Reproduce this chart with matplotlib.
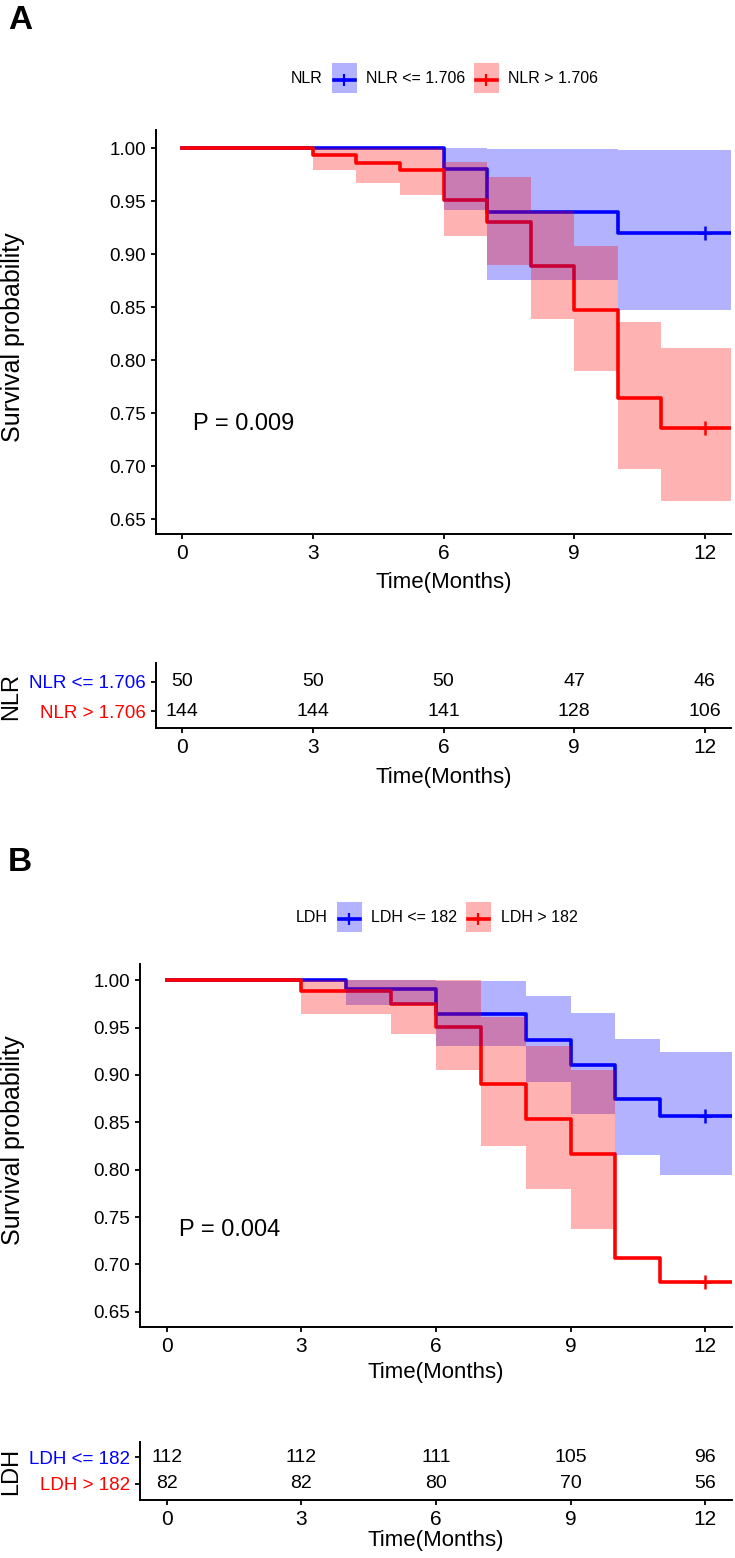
import numpy as np
import matplotlib
matplotlib.use("Agg")
import matplotlib.pyplot as plt
from matplotlib.patches import Rectangle

W, H = 735, 1558
REG = ["Liberation Sans", "DejaVu Sans"]

# ---------------------------------
# DATA
# ---------------------------------
month_ticks = [0, 3, 6, 9, 12]
t_end = 12.6
censor_t = 12

# panel A: NLR
nlr_low_t = [0, 6, 7, 10]
nlr_low_s = [1.0, 0.980, 0.940, 0.920]
nlr_low_up = [1.0, 1.0, 0.999, 0.998]
nlr_low_lo = [1.0, 0.942, 0.876, 0.847]

nlr_high_t = [0, 3, 4, 5, 6, 7, 8, 9, 10, 11]
nlr_high_s = [1.0, 0.993, 0.986, 0.979, 0.951, 0.930, 0.889, 0.847, 0.764, 0.736]
nlr_high_up = [1.0, 1.0, 1.0, 1.0, 0.987, 0.973, 0.941, 0.908, 0.836, 0.811]
nlr_high_lo = [1.0, 0.979, 0.967, 0.956, 0.917, 0.890, 0.839, 0.790, 0.697, 0.667]

nlr_risk_low = [50, 50, 50, 47, 46]
nlr_risk_high = [144, 144, 141, 128, 106]

# panel B: LDH
ldh_low_t = [0, 4, 6, 8, 9, 10, 11]
ldh_low_s = [1.0, 0.991, 0.964, 0.937, 0.910, 0.875, 0.857]
ldh_low_up = [1.0, 1.0, 0.999, 0.983, 0.965, 0.938, 0.924]
ldh_low_lo = [1.0, 0.974, 0.930, 0.893, 0.859, 0.816, 0.794]

ldh_high_t = [0, 3, 5, 6, 7, 8, 9, 10, 11]
ldh_high_s = [1.0, 0.988, 0.975, 0.951, 0.890, 0.853, 0.817, 0.707, 0.682]
ldh_high_up = [1.0, 1.0, 1.0, 1.0, 0.961, 0.930, 0.905, np.nan, np.nan]
ldh_high_lo = [1.0, 0.964, 0.943, 0.905, 0.825, 0.780, 0.737, np.nan, np.nan]

ldh_risk_low = [112, 112, 111, 105, 96]
ldh_risk_high = [82, 82, 80, 70, 56]

BLUE = "#0000FF"
RED = "#FF0000"


def px_axes(fig, left, top, right, bottom):
    return fig.add_axes([left / W, 1 - bottom / H, (right - left) / W, (bottom - top) / H])


def style_axes(ax):
    for s in ["top", "right"]:
        ax.spines[s].set_visible(False)
    for s in ["left", "bottom"]:
        ax.spines[s].set_linewidth(1.4)
    ax.tick_params(length=3.6, width=1.3, color="black", pad=3.5)


def km_panel(ax, groups, ylim, pval, pxy):
    # lines first, ribbons drawn on top (blue then red)
    for t, s, up, lo, col in groups:
        edges = np.append(t, t_end)
        ax.step(edges, np.append(s, s[-1]), where="post", color=col, lw=2.6, zorder=2)
    for t, s, up, lo, col in groups:
        edges = np.append(t, t_end)
        x = np.repeat(edges, 2)[1:-1]
        ax.fill_between(x, np.repeat(lo, 2), np.repeat(up, 2), color=col,
                        alpha=0.3, lw=0, zorder=3)
    for t, s, up, lo, col in groups:
        i = np.searchsorted(t, censor_t, side="right") - 1
        ax.plot([censor_t], [s[i]], marker="+", ms=10, mew=1.8, color=col, zorder=4)
    ax.set_xlim(-0.6, 12.6)
    ax.set_ylim(*ylim)
    ax.set_xticks(month_ticks)
    ax.set_yticks(np.arange(0.65, 1.001, 0.05))
    ax.set_yticklabels(["%.2f" % v for v in np.arange(0.65, 1.001, 0.05)])
    style_axes(ax)
    for lb in ax.get_xticklabels():
        lb.set_fontsize(15); lb.set_family(REG)
    for lb in ax.get_yticklabels():
        lb.set_fontsize(13.5); lb.set_family(REG)
    ax.text(pxy[0], pxy[1], pval, fontsize=17, family=REG, ha="left", va="center")


def risk_panel(ax, low, high, labels, name):
    for vals, yy in [(low, 1), (high, 0)]:
        for x, v in zip(month_ticks, vals):
            ax.text(x, yy, str(v), ha="center", va="center", fontsize=14, family=REG)
    ax.set_xlim(-0.6, 12.6)
    ax.set_yticks([1, 0])
    ax.set_yticklabels(labels)
    for lb, col in zip(ax.get_yticklabels(), [BLUE, RED]):
        lb.set_color(col); lb.set_fontsize(13.5); lb.set_family(REG)
    ax.set_xticks(month_ticks)
    style_axes(ax)
    for lb in ax.get_xticklabels():
        lb.set_fontsize(15); lb.set_family(REG)
    ax.set_ylabel(name, fontsize=17, family=REG)


def legend(ov, x_title, y, title, labels, x_boxes, x_labels):
    ov.text(x_title, y, title, fontsize=11.5, family=REG, ha="left", va="center")
    for xb, xl, lab, col in zip(x_boxes, x_labels, labels, [BLUE, RED]):
        ov.add_patch(Rectangle((xb, y - 15), 25, 30, facecolor=col, alpha=0.3, lw=0))
        ov.plot([xb + 2, xb + 23], [y + 2, y + 2], color=col, lw=2.6)
        ov.plot([xb + 12.5], [y + 2], marker="+", ms=9, mew=1.6, color=col)
        ov.text(xl, y, lab, fontsize=11.5, family=REG, ha="left", va="center")


fig = plt.figure(figsize=(W / 100, H / 100), dpi=100)

# ---- panel A ----
axA = px_axes(fig, 156, 130, 731, 534)
km_panel(axA,
         [(nlr_low_t, nlr_low_s, nlr_low_up, nlr_low_lo, BLUE),
          (nlr_high_t, nlr_high_s, nlr_high_up, nlr_high_lo, RED)],
         (0.636, 1.017), "P = 0.009", (0.25, 0.74))
axA.set_xlabel("Time(Months)", fontsize=16, family=REG)
axA.xaxis.set_label_coords(0.5, -0.121)
axA.xaxis.label.set_va("center")
axA.set_ylabel("Survival probability", fontsize=18, family=REG)
axA.yaxis.set_label_coords(-0.249, 0.488)
axA.yaxis.label.set_va("center")

rA = px_axes(fig, 156, 663, 731, 728)
rA.set_ylim(-0.586, 1.655)
risk_panel(rA, nlr_risk_low, nlr_risk_high, ["NLR <= 1.706", "NLR > 1.706"], "NLR")
rA.set_xlabel("Time(Months)", fontsize=16, family=REG)
rA.xaxis.set_label_coords(0.5, -0.754)
rA.xaxis.label.set_va("center")
rA.yaxis.set_label_coords(-0.252, 0.49)
rA.yaxis.label.set_va("center")

# ---- panel B ----
axB = px_axes(fig, 140, 964, 732, 1327)
km_panel(axB,
         [(ldh_low_t, ldh_low_s, ldh_low_up, ldh_low_lo, BLUE),
          (ldh_high_t, ldh_high_s, ldh_high_up, ldh_high_lo, RED)],
         (0.634, 1.017), "P = 0.004", (0.28, 0.736))
axB.set_xlabel("Time(Months)", fontsize=16, family=REG)
axB.xaxis.set_label_coords(0.5, -0.124)
axB.xaxis.label.set_va("center")
axB.set_ylabel("Survival probability", fontsize=18, family=REG)
axB.yaxis.set_label_coords(-0.214, 0.515)
axB.yaxis.label.set_va("center")

rB = px_axes(fig, 140, 1442, 732, 1500)
rB.set_ylim(-0.593, 1.556)
risk_panel(rB, ldh_risk_low, ldh_risk_high, ["LDH <= 182", "LDH > 182"], "LDH")
rB.set_xlabel("Time(Months)", fontsize=16, family=REG)
rB.xaxis.set_label_coords(0.5, -0.69)
rB.xaxis.label.set_va("center")
rB.yaxis.set_label_coords(-0.218, 0.5)
rB.yaxis.label.set_va("center")

# ---- overlay: panel letters and legends ----
ov = fig.add_axes([0, 0, 1, 1])
ov.set_xlim(0, W)
ov.set_ylim(H, 0)
ov.axis("off")
ov.text(8, 20, "A", fontsize=24, fontweight="bold", family=REG, ha="left", va="center")
ov.text(8, 862, "B", fontsize=24, fontweight="bold", family=REG, ha="left", va="center")
legend(ov, 291, 78, "NLR", ["NLR <= 1.706", "NLR > 1.706"], [332, 474], [366, 508])
legend(ov, 296, 917, "LDH", ["LDH <= 182", "LDH > 182"], [337, 466], [371, 501])

fig.savefig("out.png", dpi=100)
